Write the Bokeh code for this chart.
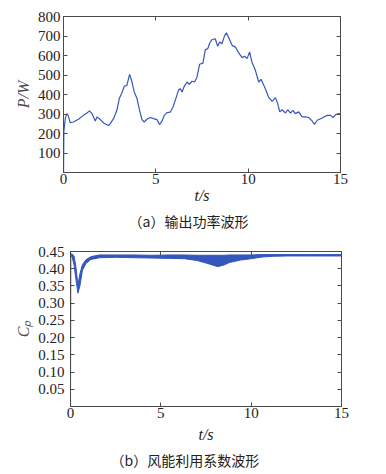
from bokeh.plotting import figure
from bokeh.layouts import column, row
from bokeh.models import LinearAxis, FixedTicker, Range1d, Title, Spacer
from bokeh.embed import file_html
from bokeh.resources import INLINE

# ---- data: output power ----
t_p = [0, 0.02, 0.1, 0.18, 0.25, 0.36, 0.54, 0.81, 1.08, 1.27, 1.41, 1.54, 1.72, 1.81, 1.95,
       2.17, 2.44, 2.53, 2.71, 2.89, 3.02, 3.16, 3.29, 3.43, 3.58, 3.71, 3.83, 3.98, 4.12,
       4.25, 4.37, 4.52, 4.70, 4.88, 5.06, 5.2, 5.33, 5.46, 5.60, 5.78, 5.93, 6.05, 6.24,
       6.32, 6.42, 6.54, 6.69, 6.81, 6.96, 7.10, 7.23, 7.37, 7.55, 7.68, 7.81, 7.92, 8.04,
       8.22, 8.35, 8.46, 8.58, 8.71, 8.82, 8.95, 9.13, 9.31, 9.49, 9.67, 9.81, 9.94, 10.08,
       10.2, 10.39, 10.57, 10.7, 10.93, 11.1, 11.3, 11.48, 11.6, 11.71, 11.84, 12.02, 12.14,
       12.29, 12.42, 12.56, 12.74, 12.92, 13.1, 13.28, 13.46, 13.59, 13.74, 13.92, 14.1,
       14.28, 14.46, 14.6, 14.73, 14.91, 15]
P = [0, 210, 280, 302, 293, 256, 259, 273, 293, 305, 316, 302, 264, 285, 276,
     254, 241, 251, 276, 319, 379, 408, 442, 447, 503, 464, 413, 379, 319,
     271, 259, 273, 282, 276, 271, 246, 263, 293, 307, 310, 336, 370, 425,
     430, 413, 442, 464, 452, 468, 464, 490, 555, 561, 630, 635, 664, 681,
     686, 647, 669, 660, 698, 717, 691, 652, 643, 613, 589, 596, 584, 618,
     567, 524, 464, 478, 430, 387, 365, 384, 353, 311, 322, 305, 322,
     305, 319, 302, 311, 285, 285, 282, 265, 247, 268, 276, 285,
     293, 293, 282, 297, 302, 299]

# ---- data: power coefficient envelope (upper / lower of the oscillating band) ----
t_cp = [0, 0.01, 0.07, 0.2, 0.3, 0.41, 0.52, 0.66, 0.85, 1.13, 1.6, 2.5, 3.5, 4.5, 5.5,
        6.3, 7.0, 7.6, 8.15, 8.5, 8.8, 9.4, 10.0, 10.6, 11.2, 12.0, 13.0, 14.0, 15.0]
cp_hi = [0, 0.438, 0.444, 0.436, 0.405, 0.352, 0.385, 0.412, 0.426, 0.435, 0.440, 0.440,
         0.440, 0.439, 0.440, 0.440, 0.439, 0.439, 0.439, 0.439, 0.440, 0.440, 0.440,
         0.441, 0.441, 0.441, 0.441, 0.441, 0.441]
cp_lo = [0, 0.432, 0.438, 0.410, 0.370, 0.329, 0.350, 0.395, 0.415, 0.427, 0.432, 0.433,
         0.432, 0.431, 0.430, 0.429, 0.424, 0.415, 0.406, 0.411, 0.418, 0.425, 0.429,
         0.434, 0.436, 0.437, 0.437, 0.437, 0.437]

# ---- ticks / texts ----
x_ticks = [0, 5, 10, 15]
x_labels = ["0", "5", "10", "15"]
p_ticks = [0, 100, 200, 300, 400, 500, 600, 700, 800]
p_labels = ["", "100", "200", "300", "400", "500", "600", "700", "800"]
cp_ticks = [0, 0.05, 0.10, 0.15, 0.20, 0.25, 0.30, 0.35, 0.40, 0.45]
cp_labels = ["", "0.05", "0.10", "0.15", "0.20", "0.25", "0.30", "0.35", "0.40", "0.45"]

x_title = "t/s"
p_title = "P/W"
cp_title = "Cₚ"
caption_a = "（a）输出功率波形"
caption_b = "（b）风能利用系数波形"

LINE = "#3557bd"
AX = "#4a4a4a"
TXT = "#222222"
NUM_FONT = "Liberation Serif"
CJK_FONT = "Noto Sans CJK SC"


def style_axes(p, xt, xl, yt, yl, ystandoff):
    for ax in p.xaxis:
        ax.ticker = FixedTicker(ticks=xt)
        ax.major_label_overrides = {t: l for t, l in zip(xt, xl)}
        ax.major_label_standoff = 1
    for ax in p.yaxis:
        ax.ticker = FixedTicker(ticks=yt)
        ax.major_label_overrides = {t: l for t, l in zip(yt, yl)}
        ax.major_label_standoff = ystandoff
    for ax in list(p.xaxis) + list(p.yaxis):
        ax.axis_line_color = AX
        ax.major_tick_line_color = AX
        ax.major_tick_in = 4
        ax.major_tick_out = 0
        ax.minor_tick_line_color = None
        ax.major_label_text_font = NUM_FONT
        ax.major_label_text_font_size = "15px"
        ax.major_label_text_color = TXT
        ax.axis_label_text_font = NUM_FONT
        ax.axis_label_text_font_size = "16px"
        ax.axis_label_text_font_style = "italic"
    p.xaxis.axis_label_text_color = TXT
    p.yaxis.axis_label_text_color = "#4a4a4a"
    p.xgrid.grid_line_color = None
    p.ygrid.grid_line_color = None
    p.outline_line_color = AX


def add_box_axes(p, xt, yt):
    for loc, tk in (("above", xt), ("right", yt)):
        ax = LinearAxis(ticker=FixedTicker(ticks=tk), major_label_text_font_size="6px",
                        major_label_text_color=None, major_label_standoff=0,
                        major_tick_in=4, major_tick_out=0, minor_tick_line_color=None,
                        axis_line_color=AX, major_tick_line_color=AX)
        p.add_layout(ax, loc)


# ---------------- top plot ----------------
p1 = figure(frame_width=277, frame_height=156, min_border_left=63, min_border_right=24,
            min_border_top=16, min_border_bottom=60, x_range=Range1d(0, 15),
            y_range=Range1d(0, 800), output_backend="svg", toolbar_location=None,
            x_axis_label=x_title, y_axis_label=p_title)
p1.line(t_p, P, line_color=LINE, line_width=1.2)
style_axes(p1, x_ticks, x_labels, p_ticks, p_labels, 3)
p1.xaxis.axis_label_standoff = 0
p1.yaxis.axis_label_standoff = 3
add_box_axes(p1, x_ticks, p_ticks)
p1.add_layout(Title(text=caption_a, align="left", offset=65, standoff=4,
                    text_font=CJK_FONT, text_font_size="14px", text_font_style="normal",
                    text_color=TXT), "below")

# ---------------- bottom plot ----------------
p2 = figure(frame_width=271, frame_height=155, min_border_left=63, min_border_right=24,
            min_border_top=19, min_border_bottom=56, x_range=Range1d(0, 15),
            y_range=Range1d(0, 0.45), output_backend="svg", toolbar_location=None,
            x_axis_label=x_title, y_axis_label=cp_title)
p2.varea(x=t_cp, y1=cp_lo, y2=cp_hi, fill_color=LINE, fill_alpha=1.0)
p2.line(t_cp, cp_hi, line_color=LINE, line_width=1)
p2.line(t_cp, cp_lo, line_color=LINE, line_width=1)
style_axes(p2, x_ticks, x_labels, cp_ticks, cp_labels, 6)
p2.xaxis.axis_label_standoff = 5
p2.yaxis.axis_label_standoff = 3
add_box_axes(p2, x_ticks, cp_ticks)
p2.add_layout(Title(text=caption_b, align="left", offset=40, standoff=5,
                    text_font=CJK_FONT, text_font_size="14px", text_font_style="normal",
                    text_color=TXT), "below")

layout = column(p1, row(Spacer(width=7, height=10), p2))
open("out.html", "w").write(file_html(layout, INLINE))
